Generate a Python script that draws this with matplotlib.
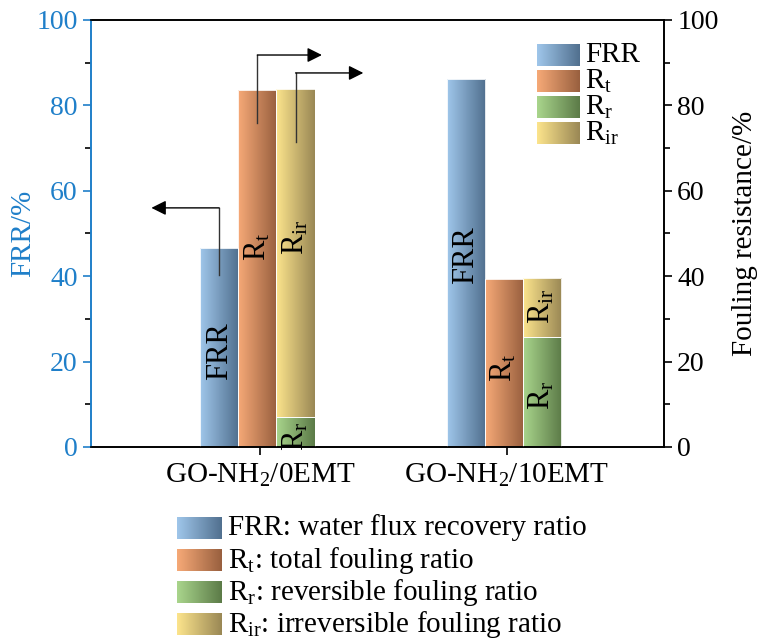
import numpy as np
import matplotlib
matplotlib.use('Agg')
import matplotlib.pyplot as plt
from matplotlib.colors import LinearSegmentedColormap

plt.rcParams['font.family'] = 'Liberation Serif'
plt.rcParams['mathtext.fontset'] = 'custom'
plt.rcParams['mathtext.rm'] = 'Liberation Serif'
plt.rcParams['mathtext.it'] = 'Liberation Serif:italic'

# data
categories = ['GO-NH$_2$/0EMT', 'GO-NH$_2$/10EMT']
frr = [46.6, 86.2]
r_t = [83.6, 39.3]
r_r = [7.0, 25.8]
r_ir = [76.8, 13.8]

names = ['FRR', 'R$_\\mathrm{t}$', 'R$_\\mathrm{r}$', 'R$_\\mathrm{ir}$']
long_names = ['FRR: water flux recovery ratio', 'R$_\\mathrm{t}$: total fouling ratio',
              'R$_\\mathrm{r}$: reversible fouling ratio', 'R$_\\mathrm{ir}$: irreversible fouling ratio']
grads = [('#9fc6ea', '#51708f'), ('#f6a977', '#99603f'),
         ('#a9d58c', '#5c7b48'), ('#fce48c', '#9a8855')]
cmaps = [LinearSegmentedColormap.from_list('g%d' % i, g) for i, g in enumerate(grads)]
blue = '#1f7fc9'

fig = plt.figure(figsize=(7.6, 6.41), dpi=100)
W, H = 760, 641
ax = fig.add_axes([91 / W, 1 - 447 / H, (664 - 91) / W, (447 - 20) / H])
ax2 = ax.twinx()

x = np.arange(len(categories))
w = 0.155
grad = np.linspace(0, 1, 64).reshape(1, -1)


def grad_bars(xs, heights, bottoms, cmap):
    bars = ax.bar(xs, heights, w, bottom=bottoms, facecolor='none', edgecolor='none')
    for b in bars:
        x0, y0 = b.get_x(), b.get_y()
        im = ax.imshow(grad, cmap=cmap, aspect='auto', extent=[x0, x0 + b.get_width(), y0, y0 + b.get_height()],
                       zorder=2)
        im.set_clip_path(b)
        ax.add_patch(plt.Rectangle((x0, y0), b.get_width(), b.get_height(), fill=False,
                                   edgecolor='white', lw=0.6, zorder=3))


grad_bars(x - w, frr, 0, cmaps[0])
grad_bars(x, r_t, 0, cmaps[1])
grad_bars(x + w, r_r, 0, cmaps[2])
grad_bars(x + w, r_ir, r_r, cmaps[3])

ax.set_xlim(-0.675, 1.65)
ax.set_ylim(0, 100)
ax2.set_ylim(0, 100)
ax.set_xticks(x + 0.012)
ax.set_xticklabels(categories, fontsize=21)

for a in (ax, ax2):
    a.set_yticks(range(0, 101, 20))
    a.set_yticks(range(10, 100, 20), minor=True)
    a.tick_params(axis='y', which='major', length=6, width=1.2, labelsize=20, direction='out')
    a.tick_params(axis='y', which='minor', length=4, width=1.2, direction='out')
ax.tick_params(axis='x', length=6, width=1.2, direction='out', pad=5)
ax.tick_params(axis='y', colors=blue)
ax.spines['left'].set_color(blue)
for s in ax.spines.values():
    s.set_linewidth(1.2)
for s in ax2.spines.values():
    s.set_linewidth(1.2)
ax2.spines['left'].set_color(blue)
ax.set_ylabel('FRR/%', fontsize=21, color=blue, labelpad=0)
ax2.set_ylabel('Fouling resistance/%', fontsize=21, labelpad=10)

# labels in bars
lbl_y = {0: [22.5, 47, 2.5, 49], 1: [45, 18.5, 12, 33]}
for i in range(2):
    xs = [x[i] - w, x[i], x[i] + w, x[i] + w]
    for k in range(4):
        ax.text(xs[k], lbl_y[i][k], names[k], rotation=90, ha='center', va='center',
                fontsize=22, zorder=4)

# arrows
arrows = [(-0.155, 40.3, 56.0, -0.43), (0.0, 75.9, 91.8, 0.262), (0.155, 71.4, 87.6, 0.43)]
for xv, y0, y1, xe in arrows:
    ax.plot([xv, xv], [y0, y1], color='#333333', lw=1, zorder=5)
    ax.annotate('', xy=(xe, y1), xytext=(xv, y1),
                arrowprops=dict(arrowstyle='-|>', color='black', lw=1, mutation_scale=22,
                                shrinkA=0, shrinkB=0), zorder=5)

# legends drawn in pixel space
ov = fig.add_axes([0, 0, 1, 1], zorder=10)
ov.set_xlim(0, W)
ov.set_ylim(H, 0)
ov.axis('off')
for k in range(4):
    yc = 55 + 26 * k
    ov.imshow(grad, cmap=cmaps[k], aspect='auto', extent=[537, 580, yc + 11, yc - 11])
    ov.text(585, yc, names[k], fontsize=21, va='center', ha='left')
    yc = 528 + 32 * k
    ov.imshow(grad, cmap=cmaps[k], aspect='auto', extent=[177, 222, yc + 11, yc - 11])
    ov.text(228, yc, long_names[k], fontsize=21, va='center', ha='left')
ov.set_xlim(0, W)
ov.set_ylim(H, 0)

fig.savefig('out.png', dpi=100)
